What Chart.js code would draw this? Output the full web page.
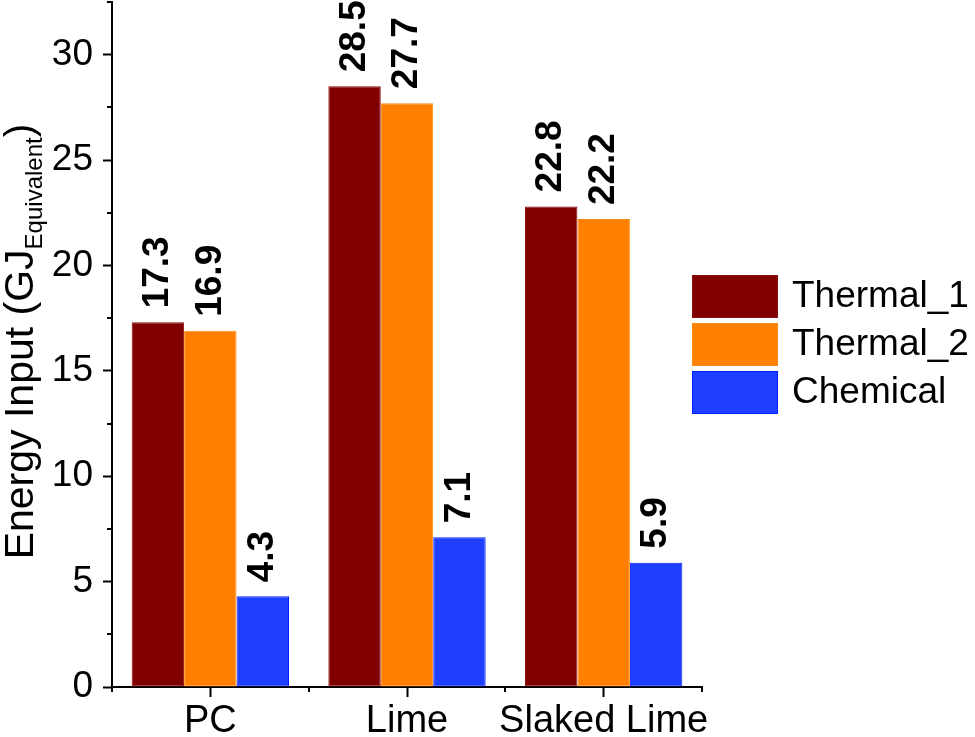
<!DOCTYPE html>
<html>
<head>
<meta charset="utf-8">
<script src="https://cdn.jsdelivr.net/npm/chart.js@4"></script>
<style>
  html, body { margin: 0; padding: 0; background: #fff; }
  canvas { display: block; }
</style>
</head>
<body>
<canvas id="energyChart" width="975" height="737"></canvas>
<script>
const categories = ["PC", "Lime", "Slaked Lime"];
const seriesNames = ["Thermal_1", "Thermal_2", "Chemical"];
const thermal1 = [17.3, 28.5, 22.8];
const thermal2 = [16.9, 27.7, 22.2];
const chemical = [4.3, 7.1, 5.9];
const yMax = 32.5;
const yStep = 2.5;
const yLabelStep = 5;

const FILLS = ["#800000", "#ff8000", "#1f3fff"];
const EDGES = ["#8e1010", "#ff8a10", "#0020ff"];
const FONT = "'Liberation Sans', Arial, sans-serif";

// --- Plugins ---
const barLabels = {
    id: "barLabels",
    afterDatasetsDraw(chart) {
        const ctx = chart.ctx;
        ctx.save();
        ctx.fillStyle = "#000";
        ctx.font = "bold 37px " + FONT;
        ctx.textAlign = "left";
        ctx.textBaseline = "middle";
        chart.data.datasets.forEach((ds, i) => {
            chart.getDatasetMeta(i).data.forEach((bar, j) => {
                ctx.save();
                ctx.translate(bar.x, bar.y - 14);
                ctx.rotate(-Math.PI / 2);
                ctx.fillText(ds.data[j].toFixed(1), 0, 0);
                ctx.restore();
            });
        });
        ctx.restore();
    },
};

const minorTicks = {
    id: "minorTicks",
    afterDraw(chart) {
        const ctx = chart.ctx;
        const { x, y } = chart.scales;
        const area = chart.chartArea;
        ctx.save();
        ctx.strokeStyle = "#000";
        ctx.lineWidth = 2;
        ctx.beginPath();
        for (let v = yStep; v <= yMax; v += yLabelStep) {
            const py = Math.round(y.getPixelForValue(v));
            ctx.moveTo(area.left - 5, py);
            ctx.lineTo(area.left, py);
        }
        for (let i = 0; i <= categories.length; i++) {
            const px = Math.round(x.getPixelForValue(i - 0.5));
            ctx.moveTo(px, area.bottom);
            ctx.lineTo(px, area.bottom + 5);
        }
        ctx.stroke();
        ctx.restore();
    },
};

const yTitle = {
    id: "yTitle",
    afterDraw(chart) {
        const ctx = chart.ctx;
        const area = chart.chartArea;
        const main = "Energy Input (GJ";
        const sub = "Equivalent";
        ctx.save();
        ctx.fillStyle = "#000";
        ctx.textBaseline = "alphabetic";
        ctx.textAlign = "left";
        ctx.font = "41px " + FONT;
        const w1 = ctx.measureText(main).width;
        const w3 = ctx.measureText(")").width;
        ctx.font = "24px " + FONT;
        const w2 = ctx.measureText(sub).width;
        const total = w1 + w2 + w3;
        const cy = (area.top + area.bottom) / 2 - 3;
        ctx.translate(33, cy + total / 2);
        ctx.rotate(-Math.PI / 2);
        ctx.font = "41px " + FONT;
        ctx.fillText(main, 0, 0);
        ctx.font = "24px " + FONT;
        ctx.fillText(sub, w1, 9);
        ctx.font = "41px " + FONT;
        ctx.fillText(")", w1 + w2, 0);
        ctx.restore();
    },
};

const boxLegend = {
    id: "boxLegend",
    afterDraw(chart) {
        const ctx = chart.ctx;
        ctx.save();
        ctx.font = "37px " + FONT;
        ctx.textBaseline = "middle";
        ctx.textAlign = "left";
        chart.data.datasets.forEach((ds, i) => {
            const top = 275 + i * 48;
            ctx.fillStyle = ds.backgroundColor;
            ctx.fillRect(692, top, 86, 43);
            ctx.strokeStyle = ds.borderColor;
            ctx.lineWidth = 1;
            ctx.strokeRect(692.5, top + 0.5, 85, 42);
            ctx.fillStyle = "#000";
            ctx.fillText(ds.label, 792, top + 22);
        });
        ctx.restore();
    },
};

// --- Chart ---
const datasets = [thermal1, thermal2, chemical].map((vals, i) => ({
    label: seriesNames[i],
    data: vals,
    backgroundColor: FILLS[i],
    borderColor: EDGES[i],
    borderWidth: 1,
    borderSkipped: false,
    categoryPercentage: 0.8,
    barPercentage: 1.0,
}));

new Chart(document.getElementById("energyChart"), {
    type: "bar",
    data: { labels: categories, datasets },
    options: {
        responsive: false,
        animation: false,
        devicePixelRatio: 1,
        layout: { padding: { left: 0, top: 2, right: 273, bottom: 0 } },
        plugins: { legend: { display: false }, tooltip: { enabled: false } },
        scales: {
            x: {
                offset: true,
                grid: {
                    drawOnChartArea: false,
                    offset: false,
                    tickLength: 10,
                    tickWidth: 2,
                    tickColor: "#000",
                },
                border: { display: true, color: "#000", width: 2 },
                ticks: { color: "#000", font: { family: FONT, size: 38 }, padding: 2, maxRotation: 0, autoSkip: false },
                afterFit(scale) {
                    scale.height = 50;
                    scale.paddingLeft = 0;
                    scale.paddingRight = 0;
                },
            },
            y: {
                min: 0,
                max: yMax,
                grid: {
                    drawOnChartArea: false,
                    tickLength: 9,
                    tickWidth: 2,
                    tickColor: (c) => (c.tick && c.tick.value % yLabelStep === 0 ? "#000" : "rgba(0,0,0,0)"),
                },
                border: { display: true, color: "#000", width: 2 },
                ticks: {
                    stepSize: yStep,
                    color: "#000",
                    font: { family: FONT, size: 37 },
                    padding: 10,
                    callback: (v) => (v % yLabelStep === 0 ? v : ""),
                },
                afterFit(scale) {
                    scale.width = 112;
                    scale.paddingTop = 0;
                    scale.paddingBottom = 0;
                },
            },
        },
    },
    plugins: [barLabels, minorTicks, yTitle, boxLegend],
});
</script>
</body>
</html>
